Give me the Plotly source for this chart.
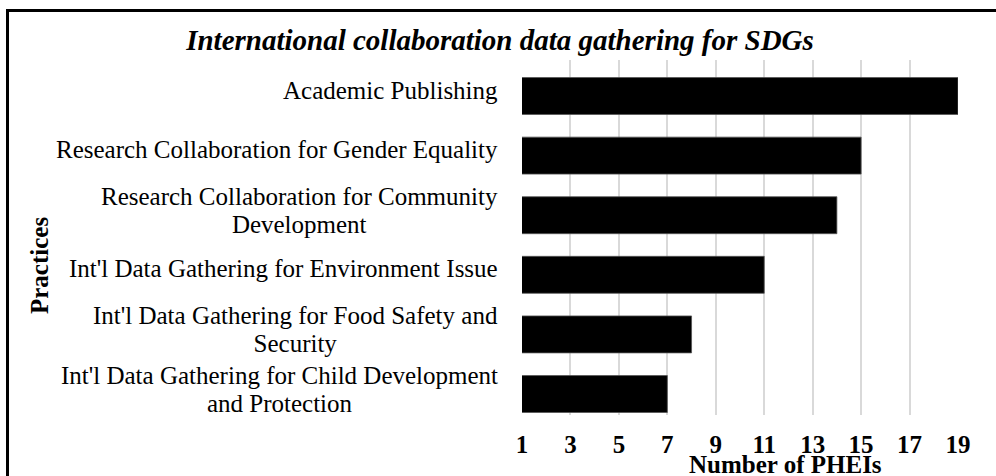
import plotly.graph_objects as go

categories = [
    "Academic Publishing",
    "Research Collaboration for Gender Equality",
    "Research Collaboration for Community<br>Development",
    "Int'l Data Gathering for Environment Issue",
    "Int'l Data Gathering for Food Safety and<br>Security",
    "Int'l Data Gathering for Child Development<br>and Protection",
]
values = [19, 15, 14, 11, 8, 7]
tick_vals = [1, 3, 5, 7, 9, 11, 13, 15, 17, 19]
title_text = "International collaboration data gathering for SDGs"
x_title = "Number of PHEIs"
y_title = "Practices"

FONT = "Liberation Serif"
W, H = 996, 476
L, R, T, B = 522, 38, 60, 61
PW, PH = W - L - R, H - T - B


def px_x(p):
    return (p - L) / PW


def px_y(p):
    return (H - B - p) / PH


fig = go.Figure()
fig.add_trace(go.Bar(
    y=categories, x=values, orientation="h",
    marker=dict(color="black", line=dict(color="#555555", width=0.8)),
    hoverinfo="skip",
))

annotations = []
for c in categories:
    lines = c.split("<br>")
    txt = "<br>".join("<span style='font-size:25px'>" + s + "</span>" for s in lines)
    annotations.append(dict(
        x=0, xref="paper", y=c, yref="y", xanchor="right", yanchor="middle",
        xshift=-22, yshift=6 if len(lines) == 1 else 5, text=txt,
        showarrow=False, align="center",
        font=dict(family=FONT, size=21.5, color="black"),
    ))
annotations.append(dict(
    x=px_x(785), y=px_y(464), xref="paper", yref="paper",
    xanchor="center", yanchor="middle", text="<b>" + x_title + "</b>",
    showarrow=False, font=dict(family=FONT, size=25, color="black"),
))
annotations.append(dict(
    x=px_x(39), y=px_y(265), xref="paper", yref="paper",
    xanchor="center", yanchor="middle", text="<b>" + y_title + "</b>",
    textangle=-90, showarrow=False, font=dict(family=FONT, size=25, color="black"),
))

fig.update_layout(
    width=W, height=H,
    margin=dict(l=L, r=R, t=T, b=B, pad=0),
    paper_bgcolor="white", plot_bgcolor="white",
    showlegend=False,
    bargap=0.38,
    title=dict(
        text="<b><i>" + title_text + "</i></b>",
        x=500 / W, y=1 - 40 / H, xref="container", yref="container",
        xanchor="center", yanchor="middle",
        font=dict(family=FONT, size=29, color="black"),
    ),
    xaxis=dict(
        range=[1, 19], tickvals=tick_vals, showgrid=True,
        gridcolor="#d9d9d9", gridwidth=2, zeroline=False, showline=False,
        ticks="", ticklabelstandoff=12,
        tickfont=dict(family=FONT, size=25, color="black", weight="bold"),
        fixedrange=True,
    ),
    yaxis=dict(
        range=[5.352, -0.604], showticklabels=False, showgrid=False,
        zeroline=False, showline=False, ticks="", fixedrange=True,
    ),
    annotations=annotations,
    shapes=[dict(
        type="rect", xref="paper", yref="paper",
        x0=px_x(7.5), x1=px_x(1040), y0=px_y(520), y1=px_y(10.5),
        line=dict(color="black", width=3), fillcolor="rgba(0,0,0,0)",
        layer="above",
    )],
)

fig.write_html("out.html")
